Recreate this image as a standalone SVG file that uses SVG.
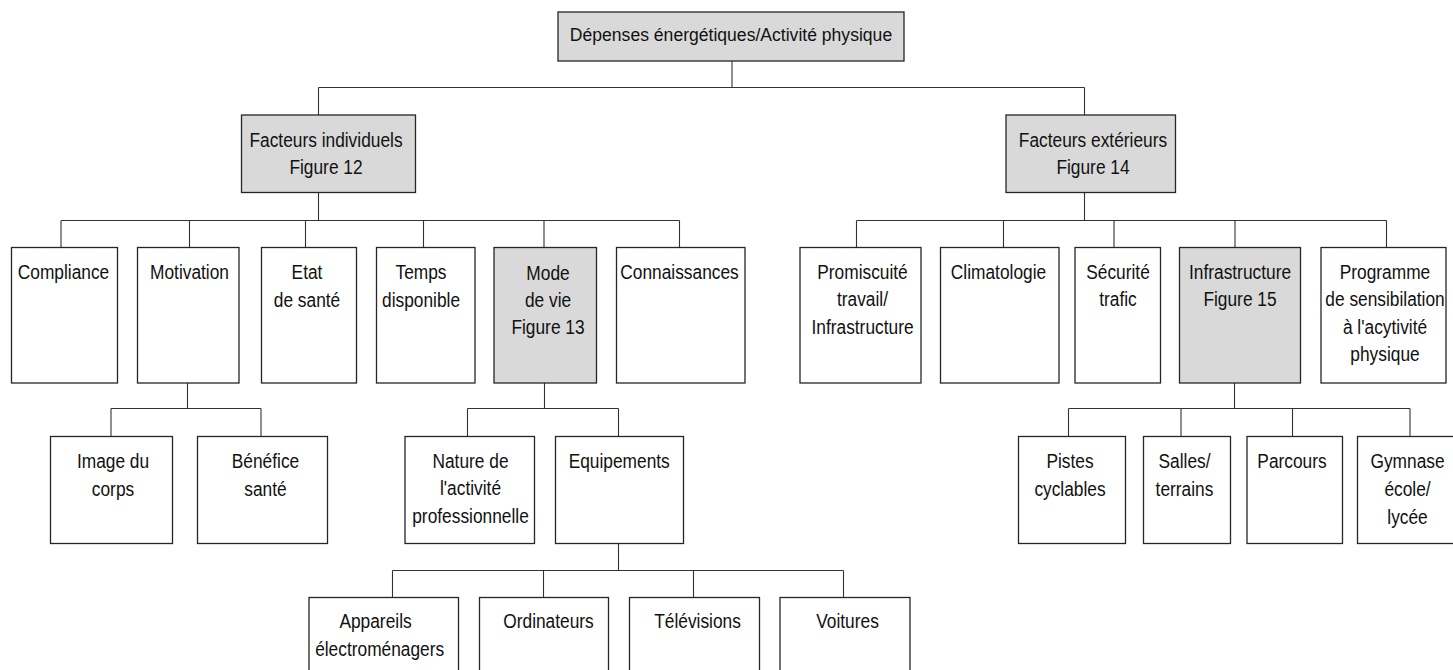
<svg xmlns="http://www.w3.org/2000/svg" width="1453" height="670" viewBox="0 0 1453 670">
<style>
.box{fill:#ffffff;stroke:#262626;stroke-width:1.3}
.gray{fill:#d9d9d9}
.c{fill:none;stroke:#333333;stroke-width:1.1}
.t{font-family:"Liberation Sans",Arial,sans-serif;font-size:21px;fill:#111111;text-anchor:middle}
.tr{font-family:"Liberation Sans",Arial,sans-serif;font-size:19px;fill:#111111;text-anchor:middle}
</style>
<rect x="0" y="0" width="1453" height="670" fill="#ffffff"/>
<g id="connectors">
<path class="c" d="M732 61V87.5M318.5 87.5H1084.5"/>
<path class="c" d="M672 87.5H732" stroke-width="2.4"/>
<path class="c" d="M318.5 87.5V115M318.5 192.5V220.5M61 220.5H679.5M61 220.5V247.5M189.5 220.5V247.5M305.5 220.5V247.5M423.5 220.5V247.5M544 220.5V247.5M679.5 220.5V247.5"/>
<path class="c" d="M1084.5 87.5V115M1084.5 192.5V220.5M856.5 220.5H1386.5M856.5 220.5V247.5M1003.5 220.5V247.5M1114 220.5V247.5M1235 220.5V247.5M1386.5 220.5V247.5"/>
<path class="c" d="M187.5 383V408.5M111 408.5H261M111 408.5V436.5M261 408.5V436.5"/>
<path class="c" d="M544.5 383V408.5M467.5 408.5H618.5M467.5 408.5V436.5M618.5 408.5V436.5"/>
<path class="c" d="M618.5 543.5V570.5M392.5 570.5H843.5M392.5 570.5V597.5M543.5 570.5V597.5M693.5 570.5V597.5M843.5 570.5V597.5"/>
<path class="c" d="M1234.5 383V408.5M1068.5 408.5H1410M1068.5 408.5V436.5M1181 408.5V436.5M1292.5 408.5V436.5M1410 408.5V436.5"/>
</g>
<g id="n-root"><rect class="box gray" x="558" y="12" width="346" height="49"/><text class="tr" transform="translate(731 0) scale(0.925 1)"><tspan x="0" y="41.5">Dépenses énergétiques/Activité physique</tspan></text></g>
<g id="n-indiv"><rect class="box gray" x="241.5" y="115" width="174" height="77.5"/><text class="t" transform="translate(326 0) scale(0.825 1)"><tspan x="0" y="146.7">Facteurs individuels</tspan><tspan x="0" y="174">Figure 12</tspan></text></g>
<g id="n-ext"><rect class="box gray" x="1006" y="115" width="169.5" height="77.5"/><text class="t" transform="translate(1093 0) scale(0.825 1)"><tspan x="0" y="146.7">Facteurs extérieurs</tspan><tspan x="0" y="174">Figure 14</tspan></text></g>
<g id="n-compliance"><rect class="box" x="11.5" y="247.5" width="106" height="135.5"/><text class="t" transform="translate(63.5 0) scale(0.825 1)"><tspan x="0" y="279.3">Compliance</tspan></text></g>
<g id="n-motivation"><rect class="box" x="137.5" y="247.5" width="101.5" height="135.5"/><text class="t" transform="translate(189.5 0) scale(0.825 1)"><tspan x="0" y="279.3">Motivation</tspan></text></g>
<g id="n-etat"><rect class="box" x="261.5" y="247.5" width="95" height="135.5"/><text class="t" transform="translate(307 0) scale(0.825 1)"><tspan x="0" y="279.3">Etat</tspan><tspan x="0" y="306.8">de santé</tspan></text></g>
<g id="n-temps"><rect class="box" x="376.5" y="247.5" width="98.5" height="135.5"/><text class="t" transform="translate(421 0) scale(0.825 1)"><tspan x="0" y="279.3">Temps</tspan><tspan x="0" y="306.8">disponible</tspan></text></g>
<g id="n-mode"><rect class="box gray" x="494" y="247.5" width="102.5" height="135.5"/><text class="t" transform="translate(548 0) scale(0.825 1)"><tspan x="0" y="279.8">Mode</tspan><tspan x="0" y="307">de vie</tspan><tspan x="0" y="334.2">Figure 13</tspan></text></g>
<g id="n-connaissances"><rect class="box" x="616.5" y="247.5" width="128.5" height="135.5"/><text class="t" transform="translate(679.5 0) scale(0.825 1)"><tspan x="0" y="279.3">Connaissances</tspan></text></g>
<g id="n-promiscuite"><rect class="box" x="800" y="247.5" width="121" height="135.5"/><text class="t" transform="translate(862.5 0) scale(0.825 1)"><tspan x="0" y="279">Promiscuité</tspan><tspan x="0" y="306.5">travail/</tspan><tspan x="0" y="334.5">Infrastructure</tspan></text></g>
<g id="n-climatologie"><rect class="box" x="940.5" y="247.5" width="118.5" height="135.5"/><text class="t" transform="translate(998.5 0) scale(0.825 1)"><tspan x="0" y="279">Climatologie</tspan></text></g>
<g id="n-securite"><rect class="box" x="1075" y="247.5" width="85.5" height="135.5"/><text class="t" transform="translate(1118 0) scale(0.825 1)"><tspan x="0" y="279">Sécurité</tspan><tspan x="0" y="306.5">trafic</tspan></text></g>
<g id="n-infra"><rect class="box gray" x="1179.5" y="247.5" width="121" height="135.5"/><text class="t" transform="translate(1240 0) scale(0.825 1)"><tspan x="0" y="279">Infrastructure</tspan><tspan x="0" y="306.5">Figure 15</tspan></text></g>
<g id="n-programme"><rect class="box" x="1321" y="247.5" width="125" height="135.5"/><text class="t" transform="translate(1385 0) scale(0.825 1)"><tspan x="0" y="279">Programme</tspan><tspan x="0" y="306.5">de sensibilation</tspan><tspan x="0" y="334">à l'acytivité</tspan><tspan x="0" y="361.5">physique</tspan></text></g>
<g id="n-image"><rect class="box" x="50.5" y="436.5" width="122" height="107"/><text class="t" transform="translate(113 0) scale(0.825 1)"><tspan x="0" y="468.3">Image du</tspan><tspan x="0" y="496">corps</tspan></text></g>
<g id="n-benefice"><rect class="box" x="197.5" y="436.5" width="130" height="107"/><text class="t" transform="translate(265.5 0) scale(0.825 1)"><tspan x="0" y="468.3">Bénéfice</tspan><tspan x="0" y="496">santé</tspan></text></g>
<g id="n-nature"><rect class="box" x="405" y="436.5" width="129.5" height="107"/><text class="t" transform="translate(470.5 0) scale(0.825 1)"><tspan x="0" y="467.7">Nature de</tspan><tspan x="0" y="495.5">l'activité</tspan><tspan x="0" y="523.3">professionnelle</tspan></text></g>
<g id="n-equipements"><rect class="box" x="555.5" y="436.5" width="128" height="107"/><text class="t" transform="translate(619.2 0) scale(0.825 1)"><tspan x="0" y="467.7">Equipements</tspan></text></g>
<g id="n-pistes"><rect class="box" x="1018.5" y="436.5" width="107" height="107"/><text class="t" transform="translate(1070 0) scale(0.825 1)"><tspan x="0" y="468.3">Pistes</tspan><tspan x="0" y="496.3">cyclables</tspan></text></g>
<g id="n-salles"><rect class="box" x="1143.5" y="436.5" width="87" height="107"/><text class="t" transform="translate(1184.5 0) scale(0.825 1)"><tspan x="0" y="468.3">Salles/</tspan><tspan x="0" y="496.3">terrains</tspan></text></g>
<g id="n-parcours"><rect class="box" x="1247" y="436.5" width="95.5" height="107"/><text class="t" transform="translate(1292 0) scale(0.825 1)"><tspan x="0" y="468.3">Parcours</tspan></text></g>
<g id="n-gymnase"><rect class="box" x="1357.5" y="436.5" width="110" height="107"/><text class="t" transform="translate(1407.5 0) scale(0.825 1)"><tspan x="0" y="468.3">Gymnase</tspan><tspan x="0" y="496.3">école/</tspan><tspan x="0" y="524.3">lycée</tspan></text></g>
<g id="n-appareils"><rect class="box" x="309" y="597.5" width="149.5" height="90"/><text class="t" transform="translate(378 0) scale(0.825 1)"><tspan x="-3" y="628.3">Appareils</tspan><tspan x="2" y="656.5">électroménagers</tspan></text></g>
<g id="n-ordinateurs"><rect class="box" x="479.5" y="597.5" width="129" height="90"/><text class="t" transform="translate(548.5 0) scale(0.825 1)"><tspan x="0" y="628.3">Ordinateurs</tspan></text></g>
<g id="n-televisions"><rect class="box" x="629.5" y="597.5" width="130" height="90"/><text class="t" transform="translate(697.5 0) scale(0.825 1)"><tspan x="0" y="628.3">Télévisions</tspan></text></g>
<g id="n-voitures"><rect class="box" x="780" y="597.5" width="130" height="90"/><text class="t" transform="translate(847.5 0) scale(0.825 1)"><tspan x="0" y="628.3">Voitures</tspan></text></g>
</svg>
